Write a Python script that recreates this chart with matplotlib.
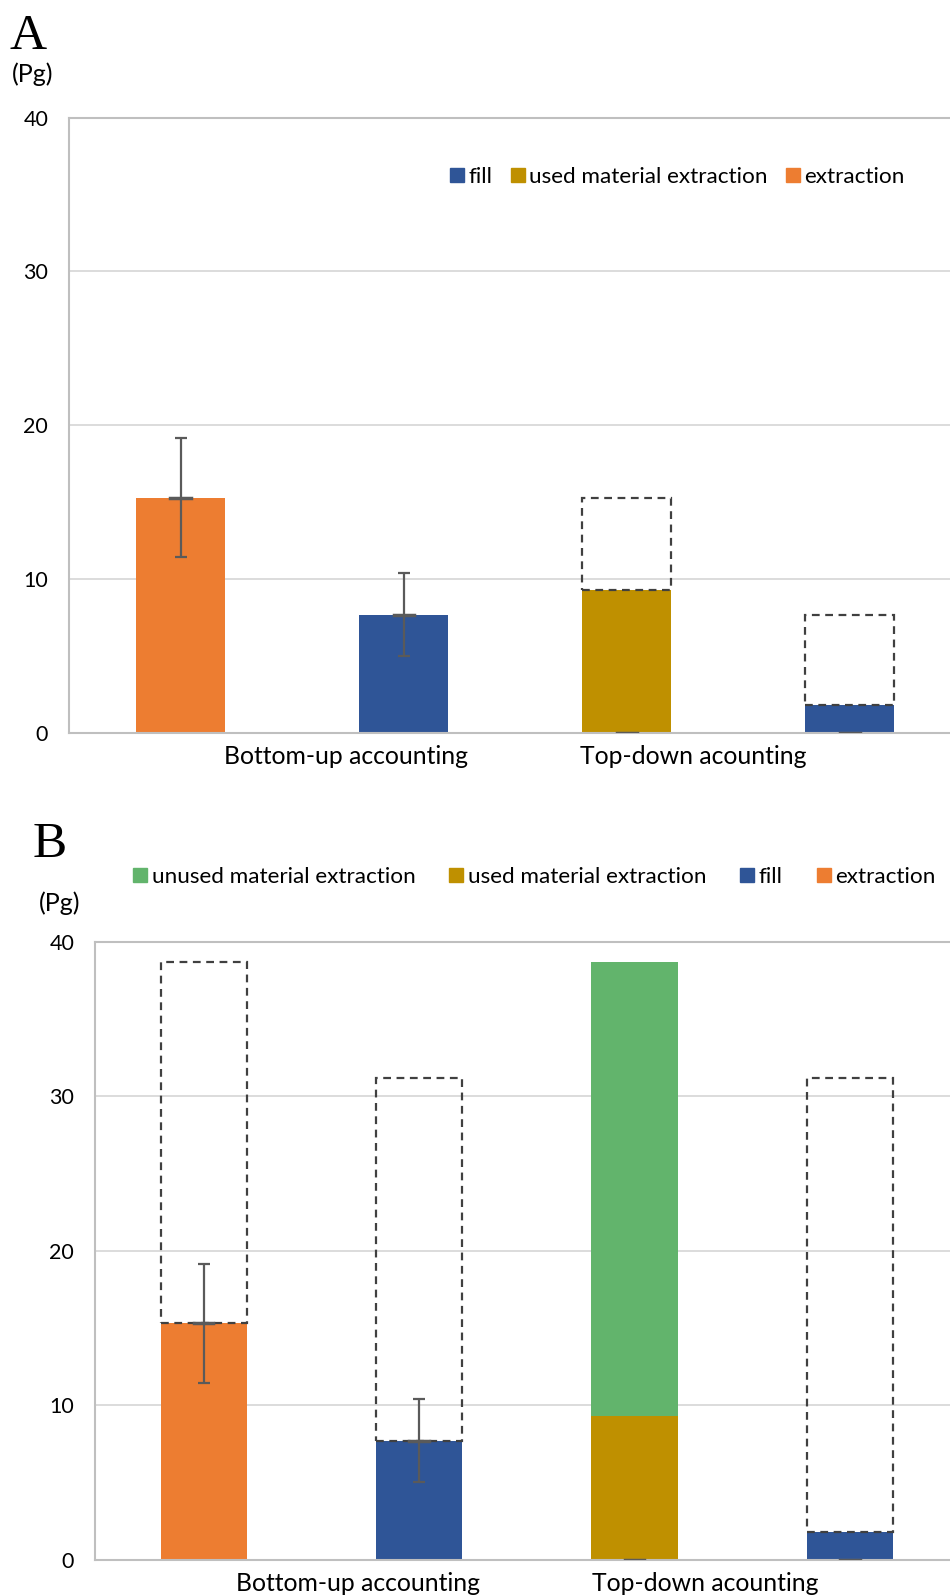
import matplotlib
matplotlib.use("Agg")
import matplotlib.pyplot as plt
from matplotlib.patches import Patch

plt.rcParams['font.family'] = ['Lato', 'DejaVu Sans']

# ------------------------------------------------------------------ #
# Data (Pg)
# ------------------------------------------------------------------ #
groups = ["Bottom-up accounting", "Top-down acounting"]

# panel A: one bar per series, dashed outline = bottom-up total
a_values = [15.3, 7.7, 9.3, 1.8]
a_series = ["extraction", "fill", "used material extraction", "fill"]
a_err = [3.85, 2.7, 0.0, 0.0]
a_outline_top = [None, None, 15.3, 7.7]

# panel B: same base bars, plus unused material on top-down extraction
b_values = [15.3, 7.7, 9.3, 1.8]
b_series = ["extraction", "fill", "used material extraction", "fill"]
b_unused = [0.0, 0.0, 29.4, 0.0]
b_err = [3.85, 2.7, 0.0, 0.0]
b_outline_top = [38.7, 31.2, None, 31.2]

colors = {
    "extraction": "#ED7D31",
    "fill": "#2F5597",
    "used material extraction": "#BF9000",
    "unused material extraction": "#62B46C",
}

W, H = 950, 1596
BAR_W = 0.4
ERR_C = "#5a5a5a"
OUT_C = "#404040"


def fx(px):
    return px / W


def fy(px):
    return 1 - px / H


def draw_panel(ax, values, series, err, outline_top, unused, xlim, label_pos):
    x = list(range(len(values)))
    ax.bar(x, values, width=BAR_W, color=[colors[s] for s in series], zorder=2)
    if unused is not None:
        ax.bar(x, unused, width=BAR_W, bottom=values,
               color=colors["unused material extraction"], zorder=2)

    # dashed outlines showing the other accounting's total
    for xi, v, top in zip(x, values, outline_top):
        if top is None:
            continue
        ax.bar(xi, top - v, width=BAR_W, bottom=v, fill=False,
               edgecolor=OUT_C, linestyle=(0, (3.5, 2.5)), linewidth=1.6, zorder=3)

    # error bars (Excel style, with zero-length ones showing as small caps)
    for xi, v, e in zip(x, values, err):
        if e > 0:
            ax.errorbar(xi, v, yerr=e, color=ERR_C, lw=1.6, capsize=4,
                        capthick=1.6, zorder=4)
            ax.plot([xi - 0.045, xi + 0.045], [v, v], color=ERR_C, lw=2.5, zorder=4)
        else:
            ax.plot([xi - 0.045, xi + 0.045], [0, 0], color=ERR_C, lw=2.5, zorder=4)

    ax.set_xlim(*xlim)
    ax.set_ylim(0, 40)
    ax.set_yticks([0, 10, 20, 30, 40])
    ax.yaxis.grid(True, color="#d9d9d9", lw=1.3, zorder=0)
    ax.set_axisbelow(True)
    ax.set_xticks(label_pos)
    ax.set_xticklabels(groups, fontsize=17.8)
    ax.tick_params(axis="x", length=0, pad=9)
    ax.tick_params(axis="y", length=0, pad=15, labelsize=15.5)
    ax.spines["right"].set_visible(False)
    for side in ("left", "bottom", "top"):
        ax.spines[side].set_color("#bfbfbf")
        ax.spines[side].set_linewidth(1.5)


fig = plt.figure(figsize=(W / 100, H / 100), dpi=100)

# ---------------- panel A ----------------
axA = fig.add_axes([fx(69), fy(733), 1 - fx(69), (733 - 117.5) / H])
draw_panel(axA, a_values, a_series, a_err, a_outline_top, None,
           (-0.5, 3.45), [0.74, 2.30])
fig.text(fx(10), fy(49), "A", fontsize=37, family=["Liberation Serif"], va="baseline")
fig.text(fx(12), fy(74), "(Pg)", fontsize=18, va="center")

leg_a = ["fill", "used material extraction", "extraction"]
fig.legend([Patch(color=colors[s]) for s in leg_a], leg_a,
           loc="center left", bbox_to_anchor=(fx(450), fy(177)),
           ncol=3, frameon=False, fontsize=16.2, borderpad=0, borderaxespad=0,
           handlelength=0.63, handleheight=0.63, handletextpad=0.2,
           columnspacing=0.8)

# ---------------- panel B ----------------
axB = fig.add_axes([fx(95), fy(1559.7), 1 - fx(95), (1559.7 - 941.7) / H])
draw_panel(axB, b_values, b_series, b_err, b_outline_top, b_unused,
           (-0.505, 3.465), [0.714, 2.33])
fig.text(fx(33), fy(857), "B", fontsize=37, family=["Liberation Serif"], va="baseline")
fig.text(fx(39), fy(903), "(Pg)", fontsize=18, va="center")

leg_b = ["unused material extraction", "used material extraction", "fill", "extraction"]
fig.legend([Patch(color=colors[s]) for s in leg_b], leg_b,
           loc="center left", bbox_to_anchor=(fx(133), fy(877)),
           ncol=4, frameon=False, fontsize=16.2, borderpad=0, borderaxespad=0,
           handlelength=0.63, handleheight=0.63, handletextpad=0.2,
           columnspacing=1.5)

fig.savefig("out.png", dpi=100)
